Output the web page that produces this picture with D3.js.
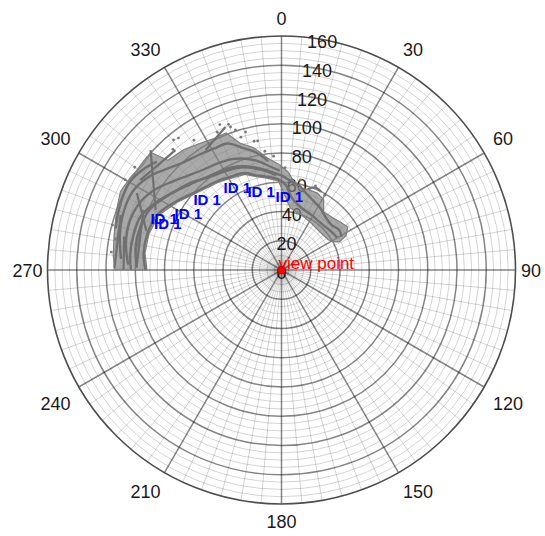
<!DOCTYPE html>
<html><head><meta charset="utf-8">
<script src="https://cdn.jsdelivr.net/npm/d3@7"></script>
<style>
body{margin:0;background:#fff}
svg{display:block}
text{font-family:"Liberation Sans",Arial,Helvetica,sans-serif}
</style>
</head><body>
<svg id="chart" width="545" height="536"></svg>
<script>
// ---------- DATA (theta in degrees clockwise from north, r in data units) ----------
const thetaTickLabels = [0,30,60,90,120,150,180,210,240,270,300,330];
const rTickLabels = [0,20,40,60,80,100,120,140,160];
const rMax = 160;

// outline of the dense point cloud (outer edge, then inner edge back)
const bandOuterEdge = [[270,114],[275,115.5],[282,117],[290,120],[296,122.5],[302,121],[307,119],[312,120],[314,108],[321,106],[327,103],[333,101],[338,101],[342,91],[347,86],[353,77],[359,72],[4,67],[8,61],[12,57],[18,58],[25,58],[31,56],[36,49],[44,50],[51,52],[57,54],[62,50],[64,44]];
const bandInnerEdge = [[62,41],[57,38],[45,37],[32,38],[20,40],[8,43],[2,52],[358,61],[350,64],[345,66],[339,70],[330,72],[324,74],[313,78],[303,85],[294,92],[285,94],[277,94],[270,92]];

// denser trajectories inside the cloud
const trackInner = [[270,93],[277,95],[285,95],[294,93],[303,86],[313,79],[324,75],[330,73],[339,71],[345,67],[350,65],[358,62],[3,58],[8,50],[14,46],[20,44],[28,43],[36,42],[44,42],[52,43],[60,44]];
const trackMid1 = [[271,99],[279,101],[287,101],[295,99],[303,93],[311,87],[318,83],[326,80],[334,78],[341,75],[348,71],[355,67],[1,64],[6,61],[12,59],[18,55],[25,52],[32,50],[40,47],[48,46],[55,48],[61,47]];
const trackMid2 = [[272,105],[280,108],[288,109],[296,107],[303,102],[309,96],[315,91],[322,87],[329,85],[336,83],[342,80],[348,76],[354,71],[359,68]];
const trackOuter1 = [[274,110],[282,113],[290,115],[298,115],[305,111],[311,105],[317,100],[324,97],[331,95],[337,94],[342,88],[348,82],[353,75]];
const trackOuter2 = [[284,117],[292,119],[300,120],[306,117],[311,113]];
const trackExtra = [[270,103],[276,104],[283,104],[291,103],[299,97],[306,91],[314,86],[321,81],[329,78],[337,76],[345,72],[352,68],[357,65]];
const streaks = [
  [[293.5,102.9],[270.8,99.2]],
  [[288.9,116.3],[270.7,114.2]],
  [[312.5,121.4],[295.5,95.4]],
  [[302.5,114.4],[318.5,109.5]],
  [[327.7,97.1],[338.6,105]],
  [[18,58],[22,61],[27,60]],
  [[282,110],[270,108]],
  [[298,112],[286,96]]
];
// isolated points around the cloud
const scatterPoints = [[340,106],[340.4,103.8],[341.8,100.8],[320.3,115.6],[322,114.5],[349.5,89.7],[292,118.7],[280.6,115.5],[284.9,119.6],[345.4,97.5],[11.9,62.9],[335,104],[337,108],[326,107],[318,111],[300,123.5],[305,122.5],[343,95],[348,90],[30,59],[22,62],[352,82],[356,78],[2,70],[276,117]];

// "ID 1" annotations
const idLabels = [[355,46.7],[335,55.1],[323,65.9],[306.4,74.8],[295.5,81.0],[289.3,95.0],[287.8,91.5]];
const idText = "ID 1";
const viewPoint = [0,0];
const viewPointText = "view point";

// ---------- DRAWING ----------
const svg = d3.select("#chart");
const cx = 281.5, cy = 270, R = 234;
const rScale = d3.scaleLinear().domain([0, rMax]).range([0, R]);
const rad = d => d * Math.PI / 180;
const g = svg.append("g").attr("transform", `translate(${cx},${cy})`);
const pt = (t, r) => d3.pointRadial(rad(t), rScale(r));

// minor grid
const gridG = g.append("g");
d3.range(5, rMax, 5).filter(v => v % 20 !== 0).forEach(v => {
  gridG.append("circle").attr("r", rScale(v)).attr("fill", "none")
    .attr("stroke", "#000").attr("stroke-opacity", 0.17).attr("stroke-width", 1);
});
d3.range(0, 360, 5).filter(v => v % 30 !== 0).forEach(t => {
  const [x, y] = pt(t, rMax);
  gridG.append("line").attr("x1", 0).attr("y1", 0).attr("x2", x).attr("y2", y)
    .attr("stroke", "#000").attr("stroke-opacity", 0.17).attr("stroke-width", 1);
});
// major grid
rTickLabels.filter(v => v > 0 && v < rMax).forEach(v => {
  gridG.append("circle").attr("r", rScale(v)).attr("fill", "none")
    .attr("stroke", "#000").attr("stroke-opacity", 0.48).attr("stroke-width", 1.5);
});
thetaTickLabels.forEach(t => {
  const [x, y] = pt(t, rMax);
  gridG.append("line").attr("x1", 0).attr("y1", 0).attr("x2", x).attr("y2", y)
    .attr("stroke", "#000").attr("stroke-opacity", 0.48).attr("stroke-width", 1.5);
});
gridG.append("circle").attr("r", rScale(rMax)).attr("fill", "none")
  .attr("stroke", "#4d4d4d").attr("stroke-width", 1.6);

// angular tick labels
thetaTickLabels.forEach(t => {
  const s = Math.sin(rad(t)), c = Math.cos(rad(t));
  const horiz = Math.abs(c) < 1e-6, vert = Math.abs(s) < 1e-6;
  const Rl = horiz ? 241 : 246;
  const px = Rl * s, py = -Rl * c;
  const anchor = vert ? "middle" : (s > 0 ? "start" : "end");
  let x = px + (vert ? 0 : (s > 0 ? -1.5 : 2));
  let y;
  if (horiz) y = py + 6.5;
  else if (c > 0) y = py + 1 - 3 * Math.abs(s);
  else y = py + 12 + 6 * Math.abs(s);
  g.append("text").attr("x", x).attr("y", y).attr("text-anchor", anchor)
    .attr("font-size", 18).attr("fill", "#1a1a1a").text(t);
});

// radial tick labels (along 10 deg)
rTickLabels.forEach(v => {
  const [x, y] = pt(10, v);
  g.append("text").attr("x", x).attr("y", y + 8.5).attr("text-anchor", "middle")
    .attr("font-size", 18).attr("fill", "#1a1a1a").text(v);
});

// data cloud
const dataG = g.append("g");
const closed = d3.lineRadial().angle(d => rad(d[0])).radius(d => rScale(d[1])).curve(d3.curveLinearClosed);
dataG.append("path").attr("d", closed(bandOuterEdge.concat(bandInnerEdge)))
  .attr("fill", "#808080").attr("fill-opacity", 0.68).attr("stroke", "#808080").attr("stroke-width", 1.2);
const track = d3.lineRadial().angle(d => rad(d[0])).radius(d => rScale(d[1])).curve(d3.curveCatmullRom);
[trackInner, trackMid1, trackMid2, trackOuter1, trackOuter2, trackExtra].forEach(tr => {
  dataG.append("path").attr("d", track(tr)).attr("fill", "none")
    .attr("stroke", "#707070").attr("stroke-width", 2.4);
});
streaks.forEach(tr => {
  dataG.append("path").attr("d", track(tr)).attr("fill", "none")
    .attr("stroke", "#707070").attr("stroke-width", 2.2);
});
scatterPoints.forEach(d => {
  const [x, y] = pt(d[0], d[1]);
  dataG.append("circle").attr("cx", x).attr("cy", y).attr("r", 1.4).attr("fill", "#7a7a7a");
});

// ID labels
idLabels.forEach(d => {
  const [x, y] = pt(d[0], d[1]);
  g.append("text").attr("x", x).attr("y", y).attr("font-size", 15).attr("font-weight", "bold")
    .attr("fill", "#0000ff").text(idText);
});

// view point
const [vx, vy] = pt(viewPoint[0], viewPoint[1]);
g.append("text").attr("x", vx - 3).attr("y", vy - 1).attr("font-size", 17).attr("fill", "#ff0000").text(viewPointText);
g.append("circle").attr("cx", vx).attr("cy", vy).attr("r", 3.8).attr("fill", "#ff0000").attr("stroke", "#d00000").attr("stroke-width", 0.8);
</script>
</body></html>
